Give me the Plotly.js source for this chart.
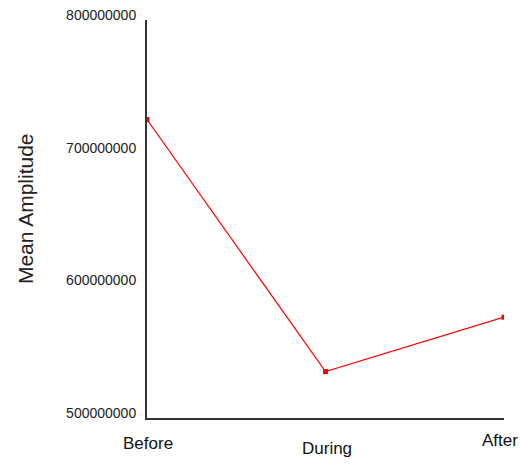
<!DOCTYPE html>
<html>
<head>
<meta charset="utf-8">
<script src="https://cdn.plot.ly/plotly-3.0.1.min.js"></script>
<style>html,body{margin:0;padding:0;background:#fff;}#chart{width:521px;height:464px;}</style>
</head>
<body>
<div id="chart"></div>
<script>
// Data
const categories = ["Before", "During", "After"];
const meanAmplitude = [725000000, 535000000, 576000000];
const yTickValues = [500000000, 600000000, 700000000, 800000000];
const yTickLabels = ["500000000", "600000000", "700000000", "800000000"];
const yTitle = "Mean Amplitude";

// Style-only offsets for the category labels (pixels)
const labelYShift = [-25, -30, -22];
const labelXShift = [1, 1, -4];

const xIdx = categories.map((c, i) => i);

const trace = {
  x: xIdx,
  y: meanAmplitude,
  type: "scatter",
  mode: "lines+markers",
  line: {color: "#ff0000", width: 1.2},
  marker: {color: "#ff0000", symbol: "square", size: 5},
  hoverinfo: "skip"
};

const annotations = categories.map((c, i) => ({
  x: xIdx[i], y: 0, xref: "x", yref: "paper",
  text: c, showarrow: false,
  xanchor: "center", yanchor: "middle",
  xshift: labelXShift[i], yshift: labelYShift[i],
  font: {family: "Arial, Liberation Sans, sans-serif", size: 17, color: "#111"}
}));
annotations.push({
  x: 0, y: 0.525, xref: "paper", yref: "paper",
  text: yTitle, showarrow: false, textangle: -90,
  xanchor: "center", yanchor: "middle", xshift: -122,
  font: {family: "Arial, Liberation Sans, sans-serif", size: 21, color: "#222"}
});

const layout = {
  width: 521, height: 464,
  margin: {l: 147, r: 17, t: 20, b: 46},
  paper_bgcolor: "#fff", plot_bgcolor: "#fff",
  showlegend: false,
  xaxis: {
    range: [0, 2],
    showgrid: false, zeroline: false,
    showline: true, linecolor: "#333", linewidth: 2,
    showticklabels: false, ticks: ""
  },
  yaxis: {
    range: [500000000, 800000000],
    tickvals: yTickValues, ticktext: yTickLabels,
    showgrid: false, zeroline: false,
    showline: true, linecolor: "#333", linewidth: 2,
    ticks: "", ticklabelstandoff: 6, ticklabelshift: -5,
    tickfont: {family: "Arial, Liberation Sans, sans-serif", size: 14, color: "#222"}
  },
  annotations: annotations
};

Plotly.newPlot("chart", [trace], layout, {displayModeBar: false, staticPlot: true});
</script>
</body>
</html>
